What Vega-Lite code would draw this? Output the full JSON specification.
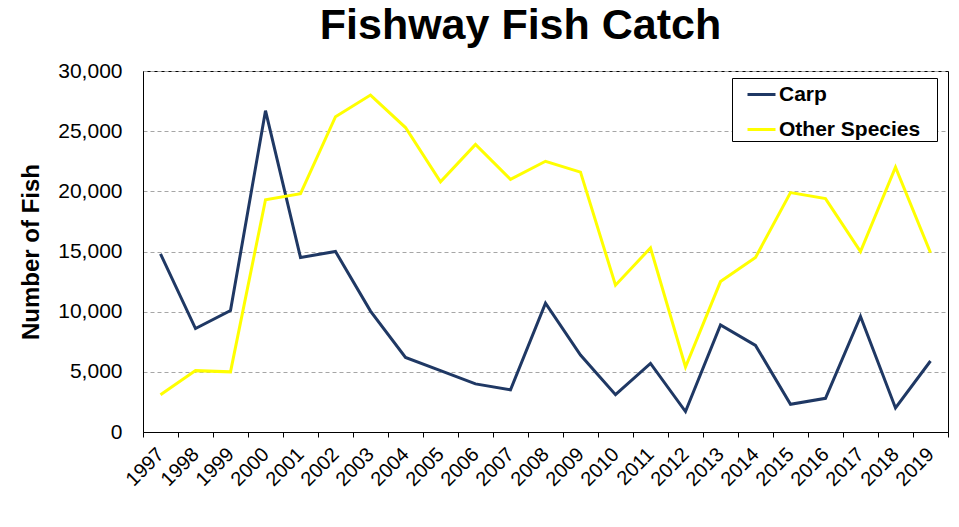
{
  "$schema": "https://vega.github.io/schema/vega-lite/v6.json",
  "autosize": {"type": "none"},
  "width": 805,
  "height": 361,
  "padding": {"left": 143, "top": 71, "right": 11, "bottom": 95},
  "background": "white",
  "config": {
    "font": "Liberation Sans",
    "view": {"stroke": "black", "strokeWidth": 1}
  },
  "title": {
    "text": "Fishway Fish Catch",
    "font": "Liberation Sans",
    "fontSize": 43,
    "fontWeight": "bold",
    "color": "black",
    "frame": "group",
    "anchor": "middle",
    "dx": -25,
    "offset": 12
  },
  "data": {
    "values": [
      {"year": "1997", "species": "Carp", "count": 14800},
      {"year": "1998", "species": "Carp", "count": 8600},
      {"year": "1999", "species": "Carp", "count": 10100},
      {"year": "2000", "species": "Carp", "count": 26700},
      {"year": "2001", "species": "Carp", "count": 14500},
      {"year": "2002", "species": "Carp", "count": 15000},
      {"year": "2003", "species": "Carp", "count": 10050},
      {"year": "2004", "species": "Carp", "count": 6200},
      {"year": "2005", "species": "Carp", "count": 5100},
      {"year": "2006", "species": "Carp", "count": 4000},
      {"year": "2007", "species": "Carp", "count": 3500},
      {"year": "2008", "species": "Carp", "count": 10700},
      {"year": "2009", "species": "Carp", "count": 6400},
      {"year": "2010", "species": "Carp", "count": 3100},
      {"year": "2011", "species": "Carp", "count": 5700},
      {"year": "2012", "species": "Carp", "count": 1700},
      {"year": "2013", "species": "Carp", "count": 8900},
      {"year": "2014", "species": "Carp", "count": 7200},
      {"year": "2015", "species": "Carp", "count": 2300},
      {"year": "2016", "species": "Carp", "count": 2800},
      {"year": "2017", "species": "Carp", "count": 9600},
      {"year": "2018", "species": "Carp", "count": 2000},
      {"year": "2019", "species": "Carp", "count": 5900},
      {"year": "1997", "species": "Other Species", "count": 3100},
      {"year": "1998", "species": "Other Species", "count": 5100},
      {"year": "1999", "species": "Other Species", "count": 5000},
      {"year": "2000", "species": "Other Species", "count": 19300},
      {"year": "2001", "species": "Other Species", "count": 19800},
      {"year": "2002", "species": "Other Species", "count": 26200},
      {"year": "2003", "species": "Other Species", "count": 28000},
      {"year": "2004", "species": "Other Species", "count": 25300},
      {"year": "2005", "species": "Other Species", "count": 20800},
      {"year": "2006", "species": "Other Species", "count": 23900},
      {"year": "2007", "species": "Other Species", "count": 21000},
      {"year": "2008", "species": "Other Species", "count": 22500},
      {"year": "2009", "species": "Other Species", "count": 21600},
      {"year": "2010", "species": "Other Species", "count": 12200},
      {"year": "2011", "species": "Other Species", "count": 15300},
      {"year": "2012", "species": "Other Species", "count": 5400},
      {"year": "2013", "species": "Other Species", "count": 12500},
      {"year": "2014", "species": "Other Species", "count": 14500},
      {"year": "2015", "species": "Other Species", "count": 19900},
      {"year": "2016", "species": "Other Species", "count": 19400},
      {"year": "2017", "species": "Other Species", "count": 15000},
      {"year": "2018", "species": "Other Species", "count": 22000},
      {"year": "2019", "species": "Other Species", "count": 14900}
    ]
  },
  "mark": {"type": "line", "strokeWidth": 3, "strokeJoin": "miter"},
  "encoding": {
    "x": {
      "field": "year",
      "type": "ordinal",
      "scale": {"type": "band", "paddingInner": 0, "paddingOuter": 0},
      "axis": {
        "title": null,
        "labelAngle": -45,
        "labelAlign": "right",
        "labelBaseline": "middle",
        "labelFontSize": 20,
        "labelColor": "black",
        "labelPadding": 14,
        "tickSize": 5,
        "tickColor": "black",
        "tickBand": "extent",
        "domainColor": "black",
        "grid": false
      }
    },
    "y": {
      "field": "count",
      "type": "quantitative",
      "scale": {"domain": [0, 30000], "nice": false},
      "axis": {
        "title": "Number of Fish",
        "titleFontSize": 24,
        "titleFontWeight": "bold",
        "titleColor": "black",
        "titlePadding": 14,
        "values": [0, 5000, 10000, 15000, 20000, 25000, 30000],
        "format": ",d",
        "labelFontSize": 21,
        "labelColor": "black",
        "labelPadding": 21,
        "ticks": false,
        "domainColor": "black",
        "grid": true,
        "gridColor": "#a6a6a6",
        "gridDash": [4, 3],
        "gridWidth": 1
      }
    },
    "color": {
      "field": "species",
      "type": "nominal",
      "scale": {"domain": ["Carp", "Other Species"], "range": ["#1f3864", "#ffff00"]},
      "legend": {
        "title": " ",
        "titleOrient": "right",
        "titlePadding": 16,
        "titleFontSize": 21,
        "orient": "none",
        "legendX": 589,
        "legendY": 7,
        "direction": "vertical",
        "symbolType": "stroke",
        "symbolSize": 784,
        "symbolStrokeWidth": 3,
        "symbolOffset": 13,
        "labelFontSize": 21,
        "labelFontWeight": "bold",
        "labelColor": "black",
        "labelOffset": 2,
        "rowPadding": 9,
        "padding": 1,
        "strokeColor": "black",
        "fillColor": "white"
      }
    }
  }
}
